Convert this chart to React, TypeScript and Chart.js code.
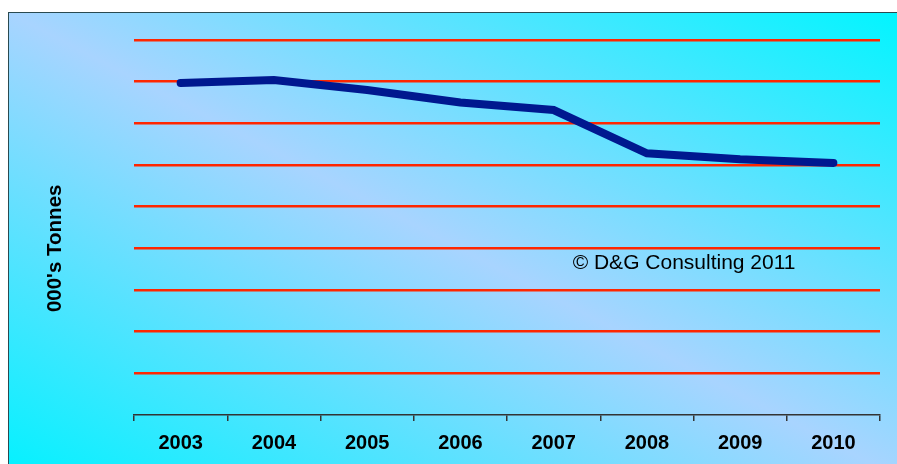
import React, { useEffect, useRef } from "react";
import { Chart, registerables } from "chart.js";

Chart.register(...registerables);

const years = ["2003", "2004", "2005", "2006", "2007", "2008", "2009", "2010"];
const tonnes = [797, 804, 780, 750, 732, 628, 614, 605];
const yMin = 0;
const yMax = 900;
const yStep = 100;
const yTitle = "000's Tonnes";
const copyright = "\u00A9 D&G Consulting 2011";

const FONT = "Arial, 'Liberation Sans', sans-serif";

export default function App() {
  const ref = useRef<HTMLCanvasElement | null>(null);

  useEffect(() => {
    const canvas = ref.current;
    if (!canvas) return;
    const textPlugin = {
      id: "texts",
      afterDraw(chart: any) {
        const { ctx, chartArea } = chart;
        ctx.save();
        ctx.font = `21px ${FONT}`;
        ctx.fillStyle = "#000";
        ctx.textBaseline = "middle";
        ctx.textAlign = "left";
        const x = chartArea.left + (chartArea.right - chartArea.left) * 0.588;
        const y = chart.scales.y.getPixelForValue(365);
        ctx.fillText(copyright, x, y);
        ctx.restore();

        ctx.save();
        ctx.font = `bold 20.5px ${FONT}`;
        ctx.fillStyle = "#000";
        ctx.textBaseline = "middle";
        ctx.textAlign = "center";
        const ty = chart.scales.y.getPixelForValue(400);
        ctx.translate(chart.scales.y.left + 11, ty);
        ctx.rotate(-Math.PI / 2);
        ctx.fillText(yTitle, 0, 0);
        ctx.restore();
      },
    };
    const chart = new Chart(canvas, {
      type: "line",
      data: {
        labels: years,
        datasets: [
          {
            data: tonnes,
            borderColor: "#00188F",
            borderWidth: 8,
            borderCapStyle: "round",
            borderJoinStyle: "miter",
            pointRadius: 0,
            pointHoverRadius: 0,
            tension: 0,
            fill: false,
          },
        ],
      },
      options: {
        responsive: false,
        animation: false,
        devicePixelRatio: 1,
        layout: { padding: { left: 44, top: 40, right: 17, bottom: 0 } },
        plugins: { legend: { display: false }, tooltip: { enabled: false } },
        scales: {
          x: {
            offset: true,
            grid: {
              display: true,
              drawOnChartArea: false,
              drawTicks: true,
              tickLength: 6,
              color: "#333333",
              lineWidth: 1.5,
              offset: true,
            },
            border: { display: true, color: "#333333", width: 1.5 },
            ticks: {
              color: "#000",
              font: { family: FONT, size: 20, weight: "bold" },
              padding: 10,
              maxRotation: 0,
              autoSkip: false,
            },
            afterFit: (axis: any) => {
              axis.height = 49;
            },
          },
          y: {
            min: yMin,
            max: yMax,
            ticks: { display: false, stepSize: yStep },
            grid: {
              drawTicks: false,
              lineWidth: 2.5,
              color: (c: any) => (c.tick && c.tick.value === yMin ? "rgba(0,0,0,0)" : "#FF2600"),
            },
            border: { display: false },
            title: { display: false },
            afterFit: (axis: any) => {
              axis.width = 90;
            },
          },
        },
      },
      plugins: [textPlugin],
    });
    return () => chart.destroy();
  }, []);

  return (
    <div>
      <div
        style={{
          position: "fixed",
          left: 8,
          top: 12,
          width: 900,
          height: 470,
          borderLeft: "1.5px solid #2a4a50",
          borderTop: "1.5px solid #2a4a50",
          background: "linear-gradient(to top right, #00F2FF 0%, #A8D4FF 50%, #00F5FF 100%)",
        }}
      />
      <canvas
        ref={ref}
        width={897}
        height={464}
        style={{ position: "fixed", left: 0, top: 0, width: 897, height: 464 }}
      />
    </div>
  );
}
